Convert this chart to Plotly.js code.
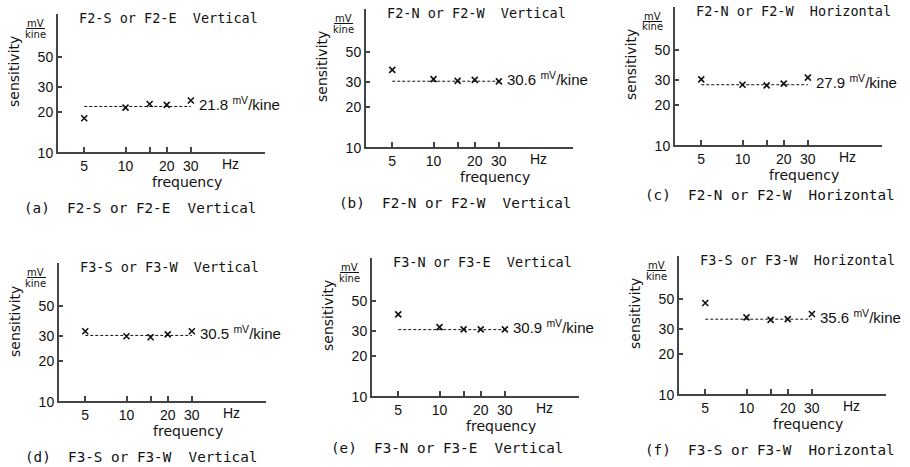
<!DOCTYPE html>
<html><head><meta charset="utf-8">
<script src="https://cdn.plot.ly/plotly-3.0.1.min.js"></script>
<style>html,body{margin:0;padding:0;background:#fff}</style>
</head><body><div id="chart" style="width:910px;height:467px"></div>
<script>
// ---- data ----
const freq = [5, 10, 15, 20, 30];
const sensA = [17.9, 21.4, 22.7, 22.4, 24.1];
const sensB = [37.0, 31.7, 30.8, 31.3, 30.5];
const sensC = [30.5, 27.9, 27.6, 28.4, 31.4];
const sensD = [32.7, 30.1, 29.6, 31.0, 32.7];
const sensE = [39.9, 32.2, 31.0, 31.0, 31.0];
const sensF = [46.7, 36.7, 35.2, 35.6, 38.8];
const levels = [21.8, 30.6, 27.9, 30.5, 30.9, 35.6];
const panelTitles = ['F2-S or F2-E  Vertical', 'F2-N or F2-W  Vertical', 'F2-N or F2-W  Horizontal',
                     'F3-S or F3-W  Vertical', 'F3-N or F3-E  Vertical', 'F3-S or F3-W  Horizontal'];
const panelLetters = ['(a)', '(b)', '(c)', '(d)', '(e)', '(f)'];
const xTickVals = [5, 10, 15, 20, 30];
const xTickText = ['5', '10', ' ', '20', '30'];
const yTickVals = [10, 20, 30, 50];
const yTickText = ['10', '20', '30', '50'];
const series = [sensA, sensB, sensC, sensD, sensE, sensF];

// ---- layout geometry (pixels) ----
const W = 910, H = 467, PW = 208, PH = 139;
const originX = [57, 365, 674, 58, 371, 678];   // y-axis line x
const originY = [153, 148, 146, 402, 397, 395]; // x-axis line y
const captionOff = [55, 55, 49, 55, 51, 55];
const captionX = [-35, -28, -31, -35, -42, -35];

const INK = '#111';
const AXC = '#444';
const nb = s => s.replace(/ /g, '\u00a0');
const traces = [];
const layout = {width: W, height: H, margin: {l: 0, r: 0, t: 0, b: 0},
  paper_bgcolor: 'white', plot_bgcolor: 'white', showlegend: false, annotations: [], shapes: []};
const sansFont = 'DejaVu Sans, sans-serif', tickFont = 'Liberation Sans, Arial, sans-serif', monoFont = 'DejaVu Sans Mono, monospace';
const xr = [0.5, 0.5 + PW / 137], yr = [1, 1 + PH / 137.5];

series.forEach((vals, i) => {
  const n = i === 0 ? '' : String(i + 1);
  const xa = 'x' + n, ya = 'y' + n, xd = xa + ' domain', yd = ya + ' domain';
  // axis frame lines along the axes' own range ends
  traces.push({x: [Math.pow(10, xr[0]), Math.pow(10, xr[1])], y: [Math.pow(10, yr[0]), Math.pow(10, yr[0])],
    xaxis: xa, yaxis: ya, mode: 'lines', hoverinfo: 'skip', line: {color: AXC, width: 2}});
  traces.push({x: [Math.pow(10, xr[0]), Math.pow(10, xr[0])], y: [Math.pow(10, yr[0]), Math.pow(10, yr[1])],
    xaxis: xa, yaxis: ya, mode: 'lines', hoverinfo: 'skip', line: {color: AXC, width: 2}});
  // mean sensitivity level
  traces.push({x: [freq[0], freq[freq.length - 1]], y: [levels[i], levels[i]], xaxis: xa, yaxis: ya,
    mode: 'lines', hoverinfo: 'skip', line: {color: INK, width: 1, dash: '3px,2px'}});
  // measured points
  traces.push({x: freq, y: vals, xaxis: xa, yaxis: ya, mode: 'markers',
    marker: {symbol: 'x-thin-open', size: 6, color: INK, line: {color: INK, width: 1.6}}});
  const x0 = originX[i], yb = originY[i];
  layout['xaxis' + n] = {type: 'log', range: xr, anchor: ya, domain: [x0 / W, (x0 + PW) / W],
    showline: true, linecolor: AXC, linewidth: 1, showgrid: false, zeroline: false,
    ticks: 'inside', ticklen: 6, tickwidth: 1.5, tickcolor: AXC,
    tickmode: 'array', tickvals: xTickVals, ticktext: xTickText, tickfont: {family: tickFont, size: 14, color: INK}};
  layout['yaxis' + n] = {type: 'log', range: yr, anchor: xa, domain: [1 - yb / H, 1 - (yb - PH) / H],
    showline: true, linecolor: AXC, linewidth: 1, showgrid: false, zeroline: false,
    ticks: 'inside', ticklen: 5, tickwidth: 1.5, tickcolor: AXC,
    tickmode: 'array', tickvals: yTickVals, ticktext: yTickText, tickfont: {family: tickFont, size: 14, color: INK}};
  // unit fraction bar
  layout.shapes.push({type: 'line', xref: xd, yref: yd, x0: -31 / PW, x1: -12 / PW,
    y0: 124.5 / PH, y1: 124.5 / PH, line: {color: INK, width: 1}});
  const A = layout.annotations;
  A.push({xref: xd, yref: yd, x: 20 / PW, y: 1 - 4 / PH, xanchor: 'left', yanchor: 'middle',
    text: nb(panelTitles[i]), showarrow: false, font: {family: monoFont, size: 13.5, color: INK}});
  A.push({xref: xd, yref: yd, x: captionX[i] / PW, y: -captionOff[i] / PH, xanchor: 'left', yanchor: 'middle',
    text: nb(panelLetters[i] + '  ' + panelTitles[i]), showarrow: false, font: {family: monoFont, size: 14.3, color: INK}});
  A.push({xref: xd, yref: yd, x: 130 / PW, y: -29 / PH, xanchor: 'center', yanchor: 'middle',
    text: 'frequency', showarrow: false, font: {family: sansFont, size: 14, color: INK}});
  A.push({xref: xd, yref: yd, x: 173 / PW, y: -11 / PH, xanchor: 'center', yanchor: 'middle',
    text: 'Hz', showarrow: false, font: {family: tickFont, size: 14, color: INK}});
  A.push({xref: xd, yref: yd, x: -43 / PW, y: 81 / PH, xanchor: 'center', yanchor: 'middle', textangle: -90,
    text: 'sensitivity', showarrow: false, font: {family: sansFont, size: 14, color: INK}});
  A.push({xref: xd, yref: yd, x: -22 / PW, y: 130 / PH, xanchor: 'center', yanchor: 'middle',
    text: 'mV', showarrow: false, font: {family: sansFont, size: 10, color: INK}});
  A.push({xref: xd, yref: yd, x: -22 / PW, y: 119 / PH, xanchor: 'center', yanchor: 'middle',
    text: 'kine', showarrow: false, font: {family: sansFont, size: 10, color: INK}});
  A.push({xref: xa, yref: ya, x: Math.log10(freq[freq.length - 1]), y: Math.log10(levels[i]),
    xanchor: 'left', yanchor: 'middle', xshift: 6, yshift: 3,
    text: levels[i].toFixed(1) + '\u00a0<sup>mV</sup>/kine', showarrow: false, font: {family: tickFont, size: 15, color: INK}});
});
Plotly.newPlot('chart', traces, layout, {displayModeBar: false});
</script></body></html>
